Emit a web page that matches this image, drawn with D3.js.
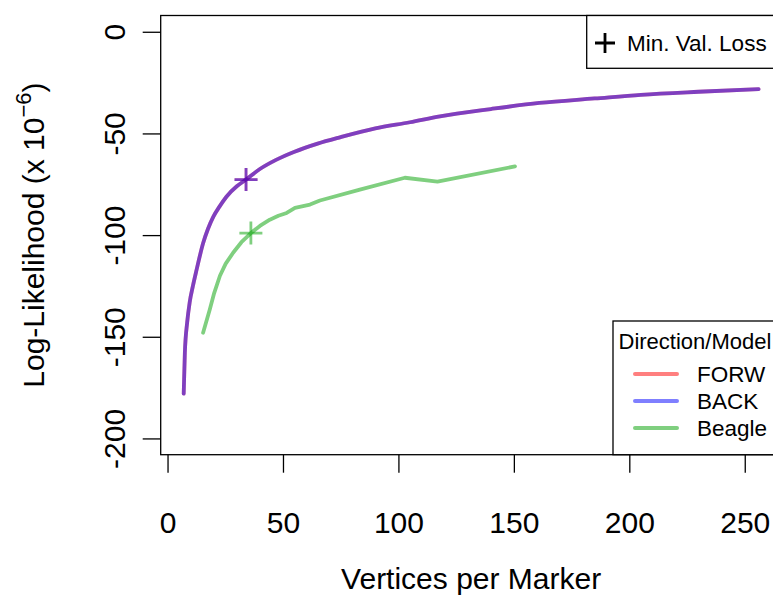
<!DOCTYPE html>
<html>
<head>
<meta charset="utf-8">
<script src="https://cdn.jsdelivr.net/npm/d3@7"></script>
<style>
  html, body { margin: 0; padding: 0; background: #fff; }
  svg { display: block; font-family: "Liberation Sans", Arial, Helvetica, sans-serif; }
</style>
</head>
<body>
<svg id="chart" width="773" height="596"></svg>
<script>
// ---- data ----
const backX = [7, 7.5, 8.5, 9.6, 11, 12.6, 15.4, 17.5, 19.8, 22.5, 25.6, 30, 34, 40, 47, 55, 65, 75, 90, 105, 118, 140, 161, 185, 205, 230, 256];
const backY = [-178, -158, -143, -133, -125, -117, -104, -97, -91, -86, -81, -76, -72.7, -67.5, -63, -59, -55, -51.8, -47.5, -44.5, -41.6, -38, -35, -32.8, -31, -29.5, -28.2];
const forwX = backX.slice();
const forwY = backY.slice();
const beagleX = [15.4, 18.3, 20.2, 22.7, 25.2, 28.4, 32, 36.1, 40, 44.3, 48, 51.6, 55.2, 61.7, 66, 83.3, 102.8, 116.9, 150.5];
const beagleY = [-148, -136.6, -128.5, -120, -114, -108.7, -103.5, -99, -95.5, -92.4, -90.5, -89.1, -86.6, -85, -83, -77.6, -71.8, -73.7, -66.2];
const minLossX = [34, 34, 36.1];
const minLossY = [-72.7, -72.7, -99];
const minLossSeries = ["FORW", "BACK", "Beagle"];
const seriesNames = ["FORW", "BACK", "Beagle"];
const seriesColors = ["rgba(255,0,0,0.5)", "rgba(0,0,255,0.5)", "rgba(0,160,0,0.5)"];
const xTicks = [0, 50, 100, 150, 200, 250];
const yTicks = [0, -50, -100, -150, -200];
const xLimits = [7, 256];
const yLimits = [-200, 0];

(function () {
// ---- layout ----
const svg = d3.select("#chart");
const pL = 160.7, pR = 781.6, pT = 15.5, pB = 454.7;
const xPad = (xLimits[1] - xLimits[0]) * 0.04;
const yPad = (yLimits[1] - yLimits[0]) * 0.04;
const x = d3.scaleLinear().domain([xLimits[0] - xPad, xLimits[1] + xPad]).range([pL, pR]);
const y = d3.scaleLinear().domain([yLimits[1] + yPad, yLimits[0] - yPad]).range([pT, pB]);

// axes (ticks only, like R axis with box)
const xAxis = d3.axisBottom(x).tickValues(xTicks).tickSize(18).tickPadding(0).tickFormat(d => d);
const gx = svg.append("g").attr("transform", `translate(0,${pB})`).call(xAxis);
gx.select(".domain").remove();
gx.selectAll(".tick line").attr("stroke", "#000").attr("stroke-width", 1.3);
gx.selectAll(".tick text").attr("font-size", 30).attr("fill", "#000")
  .attr("y", 0).attr("dy", 0).attr("transform", "translate(0,78)")
  .attr("font-family", "Liberation Sans, Arial, sans-serif");

const yAxis = d3.axisLeft(y).tickValues(yTicks).tickSize(18).tickPadding(0).tickFormat(d => d === 0 ? "0" : "-" + Math.abs(d));
const gy = svg.append("g").attr("transform", `translate(${pL},0)`).call(yAxis);
gy.select(".domain").remove();
gy.selectAll(".tick line").attr("stroke", "#000").attr("stroke-width", 1.3);
gy.selectAll(".tick text").attr("font-size", 30).attr("fill", "#000")
  .attr("x", 0).attr("dy", 0).attr("text-anchor", "middle")
  .attr("transform", "translate(-36,0) rotate(-90)")
  .attr("font-family", "Liberation Sans, Arial, sans-serif");

// clip for plot region
svg.append("clipPath").attr("id", "plotclip").append("rect")
  .attr("x", pL).attr("y", pT).attr("width", pR - pL).attr("height", pB - pT);
const plot = svg.append("g").attr("clip-path", "url(#plotclip)");

const smoothLine = d3.line().x(d => x(d[0])).y(d => y(d[1])).curve(d3.curveMonotoneX);
const straightLine = d3.line().x(d => x(d[0])).y(d => y(d[1]));
const seriesData = [
  d3.zip(forwX, forwY),
  d3.zip(backX, backY),
  d3.zip(beagleX, beagleY)
];
seriesData.forEach((pts, i) => {
  plot.append("path").datum(pts)
    .attr("d", i < 2 ? smoothLine : straightLine)
    .attr("fill", "none")
    .attr("stroke", seriesColors[i])
    .attr("stroke-width", 3.8)
    .attr("stroke-linejoin", "round")
    .attr("stroke-linecap", "round");
});

// min val loss markers (pch = 3 crosses)
const arm = 11.5;
minLossX.forEach((mx, i) => {
  const cx = x(mx), cy = y(minLossY[i]);
  const col = seriesColors[seriesNames.indexOf(minLossSeries[i])];
  plot.append("path")
    .attr("d", `M${cx - arm},${cy}H${cx + arm}M${cx},${cy - arm}V${cy + arm}`)
    .attr("stroke", col).attr("stroke-width", 2.8).attr("fill", "none");
});

// box
svg.append("rect").attr("x", pL).attr("y", pT).attr("width", pR - pL).attr("height", pB - pT)
  .attr("fill", "none").attr("stroke", "#000").attr("stroke-width", 1.3);

// legend 1 (Min. Val. Loss)
const lg1 = svg.append("g");
lg1.append("rect").attr("x", 586.7).attr("y", pT).attr("width", pR - 586.7).attr("height", 68.3 - pT)
  .attr("fill", "#fff").attr("stroke", "#000").attr("stroke-width", 1.3);
lg1.append("path").attr("d", `M${605 - 10},43H${605 + 10}M605,${43 - 10}V${43 + 10}`)
  .attr("stroke", "#000").attr("stroke-width", 2.8);
lg1.append("text").attr("x", 627).attr("y", 51).attr("font-size", 22.5).attr("fill", "#000").text("Min. Val. Loss");

// legend 2 (Direction/Model)
const lg2 = svg.append("g");
lg2.append("rect").attr("x", 613).attr("y", 321).attr("width", pR - 613).attr("height", pB - 321)
  .attr("fill", "#fff").attr("stroke", "#000").attr("stroke-width", 1.3);
lg2.append("text").attr("x", 618.5).attr("y", 349).attr("font-size", 22).attr("fill", "#000").text("Direction/Model");
const legY = [374, 401, 428];
seriesNames.forEach((nm, i) => {
  lg2.append("line").attr("x1", 635).attr("x2", 677).attr("y1", legY[i]).attr("y2", legY[i])
    .attr("stroke", seriesColors[i]).attr("stroke-width", 4).attr("stroke-linecap", "round");
  lg2.append("text").attr("x", 697).attr("y", legY[i] + 8).attr("font-size", 22.5).attr("fill", "#000").text(nm);
});

// axis titles
svg.append("text").attr("x", (pL + pR) / 2).attr("y", 589).attr("text-anchor", "middle")
  .attr("font-size", 30).attr("fill", "#000").text("Vertices per Marker");

const yt = svg.append("text").attr("text-anchor", "middle").attr("font-size", 30).attr("fill", "#000")
  .attr("transform", `translate(44,${(pT + pB) / 2}) rotate(-90)`);
yt.append("tspan").text("Log-Likelihood (x 10");
yt.append("tspan").attr("font-size", 22).attr("dy", -13).text("\u22126");
yt.append("tspan").attr("dy", 13).text(")");
})();
</script>
</body>
</html>
